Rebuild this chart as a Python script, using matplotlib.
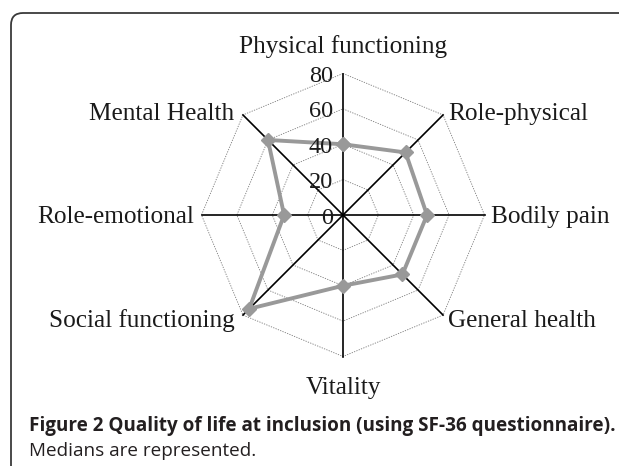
import numpy as np
import matplotlib
matplotlib.use("Agg")
import matplotlib.pyplot as plt
from matplotlib.patches import FancyBboxPatch

# SF-36 domains, clockwise from the top
categories = ["Physical functioning", "Role-physical", "Bodily pain", "General health",
              "Vitality", "Social functioning", "Role-emotional", "Mental Health"]
medians = [40, 50, 47.5, 47.5, 40, 75, 33.3, 60]
ring_levels = [20, 40, 60, 80]
tick_labels = ["0", "20", "40", "60", "80"]

# label placement: (offset x px, offset y px to baseline, ha)
label_offsets = [(0, 21, "center"), (5, -5, "left"), (6.5, -8, "left"), (5, -12, "left"),
                 (0, -37.5, "center"), (-8, -12, "right"), (-7.5, -8, "right"), (-9, -5, "right")]

W, H, DPI = 619, 466, 100
fig = plt.figure(figsize=(W / DPI, H / DPI), dpi=DPI)

# rounded frame around the figure panel
frame = FancyBboxPatch((11 / DPI, -1), 10, (H - 13) / DPI + 1,
                       boxstyle="round,pad=0,rounding_size=0.12",
                       transform=fig.dpi_scale_trans, fill=False,
                       edgecolor="#3a3a3a", linewidth=1.3)
fig.patches.append(frame)

cx, cy, rad = 343, 215, 141.5
ax = fig.add_axes([(cx - rad) / W, (H - cy - rad) / H, 2 * rad / W, 2 * rad / H],
                  projection="polar")
ax.set_theta_offset(np.pi / 2)
ax.set_theta_direction(-1)
ax.set_ylim(0, 80)
ax.axis("off")

n = len(categories)
angles = np.linspace(0, 2 * np.pi, n, endpoint=False)
closed = np.append(angles, angles[0])

# octagon grid
for lvl in ring_levels:
    ax.plot(closed, [lvl] * (n + 1), color="#7a7a7a", lw=0.6,
            linestyle=(0, (1.5, 1.5)), zorder=1, clip_on=False)

# spokes
for a in angles:
    ax.plot([a, a], [0, 80], color="black", lw=1.2, zorder=2, clip_on=False)

# data
vals = np.append(medians, medians[0])
ax.plot(closed, vals, color="#999999", lw=2.8, marker="D", markersize=7,
        zorder=3, clip_on=False)

serif = "Liberation Serif"
for a, name, (dx, dy, ha) in zip(angles, categories, label_offsets):
    ax.annotate(name, xy=(a, 80), xytext=(dx, dy), textcoords="offset pixels",
                ha=ha, va="baseline", fontsize=18.2, family=serif, color="#1a1a1a",
                annotation_clip=False)

for lvl, lab in zip([0] + ring_levels, tick_labels):
    ax.annotate(lab, xy=(0, lvl), xytext=(-10, -8.5), textcoords="offset pixels",
                ha="right", va="baseline", fontsize=17.5, family=serif, color="#1a1a1a",
                annotation_clip=False)

fig.text(29 / W, 1 - 426 / H,
         "Figure 2 Quality of life at inclusion (using SF-36 questionnaire).",
         ha="left", va="center", fontsize=13.6, family="Open Sans",
         fontweight="bold", color="#231f20")
fig.text(29 / W, 1 - 451 / H, "Medians are represented.",
         ha="left", va="center", fontsize=13.6, family="Open Sans", color="#231f20")

fig.savefig("out.png", dpi=DPI)
